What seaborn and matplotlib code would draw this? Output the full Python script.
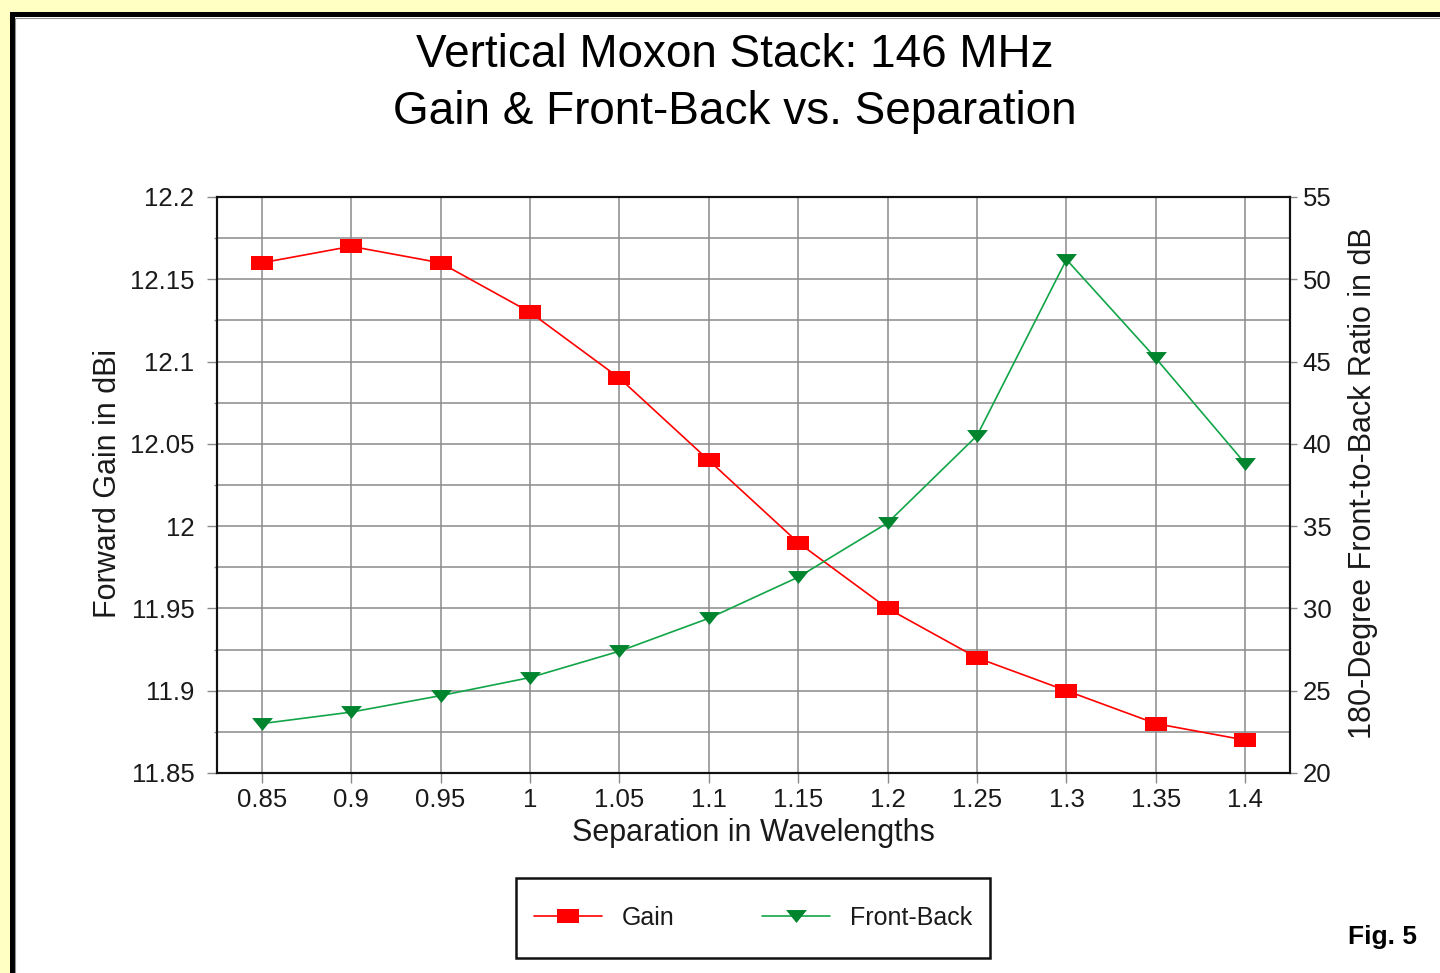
import matplotlib
matplotlib.use("Agg")
import matplotlib.pyplot as plt
from matplotlib.patches import Rectangle
from matplotlib.ticker import MultipleLocator, FixedLocator
import numpy as np
import pandas as pd
import seaborn as sns

# ---- data ----
separation = [0.85, 0.9, 0.95, 1.0, 1.05, 1.1, 1.15, 1.2, 1.25, 1.3, 1.35, 1.4]
sep_labels = ["0.85", "0.9", "0.95", "1", "1.05", "1.1", "1.15", "1.2", "1.25", "1.3", "1.35", "1.4"]
gain_dbi = [12.16, 12.17, 12.16, 12.13, 12.09, 12.04, 11.99, 11.95, 11.92, 11.90, 11.88, 11.87]
front_back_db = [23.0, 23.7, 24.7, 25.8, 27.4, 29.4, 31.9, 35.2, 40.5, 51.2, 45.2, 38.8]
gain_ticks = [11.85, 11.9, 11.95, 12.0, 12.05, 12.1, 12.15, 12.2]
gain_tick_labels = ["11.85", "11.9", "11.95", "12", "12.05", "12.1", "12.15", "12.2"]
fb_ticks = [20, 25, 30, 35, 40, 45, 50, 55]

df = pd.DataFrame({"Separation": separation, "Gain": gain_dbi, "FrontBack": front_back_db})

sns.set_theme(style="white")
plt.rcParams["font.family"] = ["Liberation Sans", "DejaVu Sans"]

W, H = 1440, 973
fig = plt.figure(figsize=(W / 100, H / 100), dpi=100)
fig.patch.set_facecolor("#FFFFC4")

# white panel with black frame
frame = Rectangle((11.5 / W, -0.1), 1.2, 1 - 14 / H + 0.1, transform=fig.transFigure,
                  facecolor="white", edgecolor="black", linewidth=3.6, zorder=-10)
fig.patches.append(frame)
inner = Rectangle((15 / W, -0.1), 1.2, 1 - 17.5 / H + 0.1, transform=fig.transFigure,
                  facecolor="none", edgecolor="#909090", linewidth=0.8, zorder=-9)
fig.patches.append(inner)

ax = fig.add_axes([217 / W, 1 - 773 / H, (1290 - 217) / W, (773 - 197) / H])
ax.set_facecolor("white")
ax2 = ax.twinx()

red = "#FF0000"
green_line = "#12A548"
green_mk = "#00842E"
rect_marker = [(-1, -0.66), (1, -0.66), (1, 0.66), (-1, 0.66), (-1, -0.66)]
tri_marker = [(-1, 0.62), (1, 0.62), (0, -0.62), (-1, 0.62)]

sns.lineplot(data=df, x="Separation", y="Gain", ax=ax, color=red, linewidth=1.2,
             marker=rect_marker, markersize=15.5, markerfacecolor=red, markeredgecolor=red,
             markeredgewidth=0, label="Gain", legend=False, zorder=5)
sns.lineplot(data=df, x="Separation", y="FrontBack", ax=ax2, color=green_line, linewidth=1.2,
             marker=tri_marker, markersize=15, markerfacecolor=green_mk, markeredgecolor=green_mk,
             markeredgewidth=0, label="Front-Back", legend=False, zorder=5)

ax.set_xlim(0.825, 1.425)
ax.set_ylim(11.85, 12.2)
ax2.set_ylim(20, 55)

ax.xaxis.set_major_locator(FixedLocator(separation))
ax.set_xticklabels(sep_labels)
ax.yaxis.set_major_locator(FixedLocator(gain_ticks))
ax.set_yticklabels(gain_tick_labels)
ax.yaxis.set_minor_locator(MultipleLocator(0.025))
ax2.yaxis.set_major_locator(FixedLocator(fb_ticks))
ax2.yaxis.set_minor_locator(MultipleLocator(2.5))

gridc = "#8A8A8A"
ax.grid(True, which="both", axis="y", color=gridc, linewidth=1.1)
ax.grid(True, which="major", axis="x", color=gridc, linewidth=1.1)
ax2.grid(False)
ax.set_axisbelow(True)

txtc = "#1a1a1a"
tfs = 18.5
ax.tick_params(axis="y", which="major", direction="out", length=7.2, width=1.0, color=gridc,
               pad=9, labelsize=tfs, labelcolor=txtc, left=True)
ax.tick_params(axis="y", which="minor", direction="out", length=2.5, width=1.0, color=gridc, left=True)
ax.tick_params(axis="x", which="major", direction="out", length=7, width=1.0, color=gridc,
               pad=4, labelsize=tfs, labelcolor=txtc, bottom=True)
ax2.tick_params(axis="y", which="major", direction="out", length=5, width=1.0, color=gridc,
                pad=4, labelsize=tfs, labelcolor=txtc, right=True)
ax2.tick_params(axis="y", which="minor", direction="out", length=0, right=False)

for a in (ax, ax2):
    for s in a.spines.values():
        s.set_color("#111111")
        s.set_linewidth(1.5)
        s.set_visible(True)

ax.set_xlabel("Separation in Wavelengths", fontsize=22, color=txtc)
ax.set_ylabel("Forward Gain in dBi", fontsize=22, color=txtc)
ax2.set_ylabel("180-Degree Front-to-Back Ratio in dB", fontsize=22, color=txtc)
ax.xaxis.set_label_coords((753 - 217) / (1290 - 217), (773 - 833) / (773 - 197))
ax.xaxis.label.set_va("center")
ax.yaxis.set_label_coords((108 - 217) / (1290 - 217), (773 - 484) / (773 - 197))
ax.yaxis.label.set_va("center")
ax2.yaxis.set_label_coords((1363 - 217) / (1290 - 217), (773 - 483) / (773 - 197))
ax2.yaxis.label.set_va("center")

fig.text(735 / W, 1 - 55 / H, "Vertical Moxon Stack: 146 MHz", ha="center", va="center",
         fontsize=33, color="black")
fig.text(735 / W, 1 - 112 / H, "Gain & Front-Back vs. Separation", ha="center", va="center",
         fontsize=33, color="black")

# legend box drawn as a frame, entries from the legend
legbox = Rectangle((516 / W, 1 - 958 / H), (990 - 516) / W, 80 / H, transform=fig.transFigure,
                   facecolor="white", edgecolor="#111111", linewidth=1.8, zorder=1)
fig.patches.append(legbox)

h1, l1 = ax.get_legend_handles_labels()
h2, l2 = ax2.get_legend_handles_labels()
leg = fig.legend(h1 + h2, l1 + l2, loc="center", bbox_to_anchor=(753 / W, 1 - 918 / H),
                 ncol=2, frameon=False, fontsize=18, handlelength=2.7,
                 handletextpad=0.8, columnspacing=3.5, borderpad=0.5, markerscale=1.0)
leg.set_zorder(3)
for t in leg.get_texts():
    t.set_color(txtc)

fig.text(1382 / W, 1 - 937 / H, "Fig. 5", ha="center", va="center", fontsize=19,
         fontweight="bold", family=["Liberation Sans Narrow", "Liberation Sans"], color="black")

fig.savefig("out.png", dpi=100, facecolor=fig.get_facecolor())
